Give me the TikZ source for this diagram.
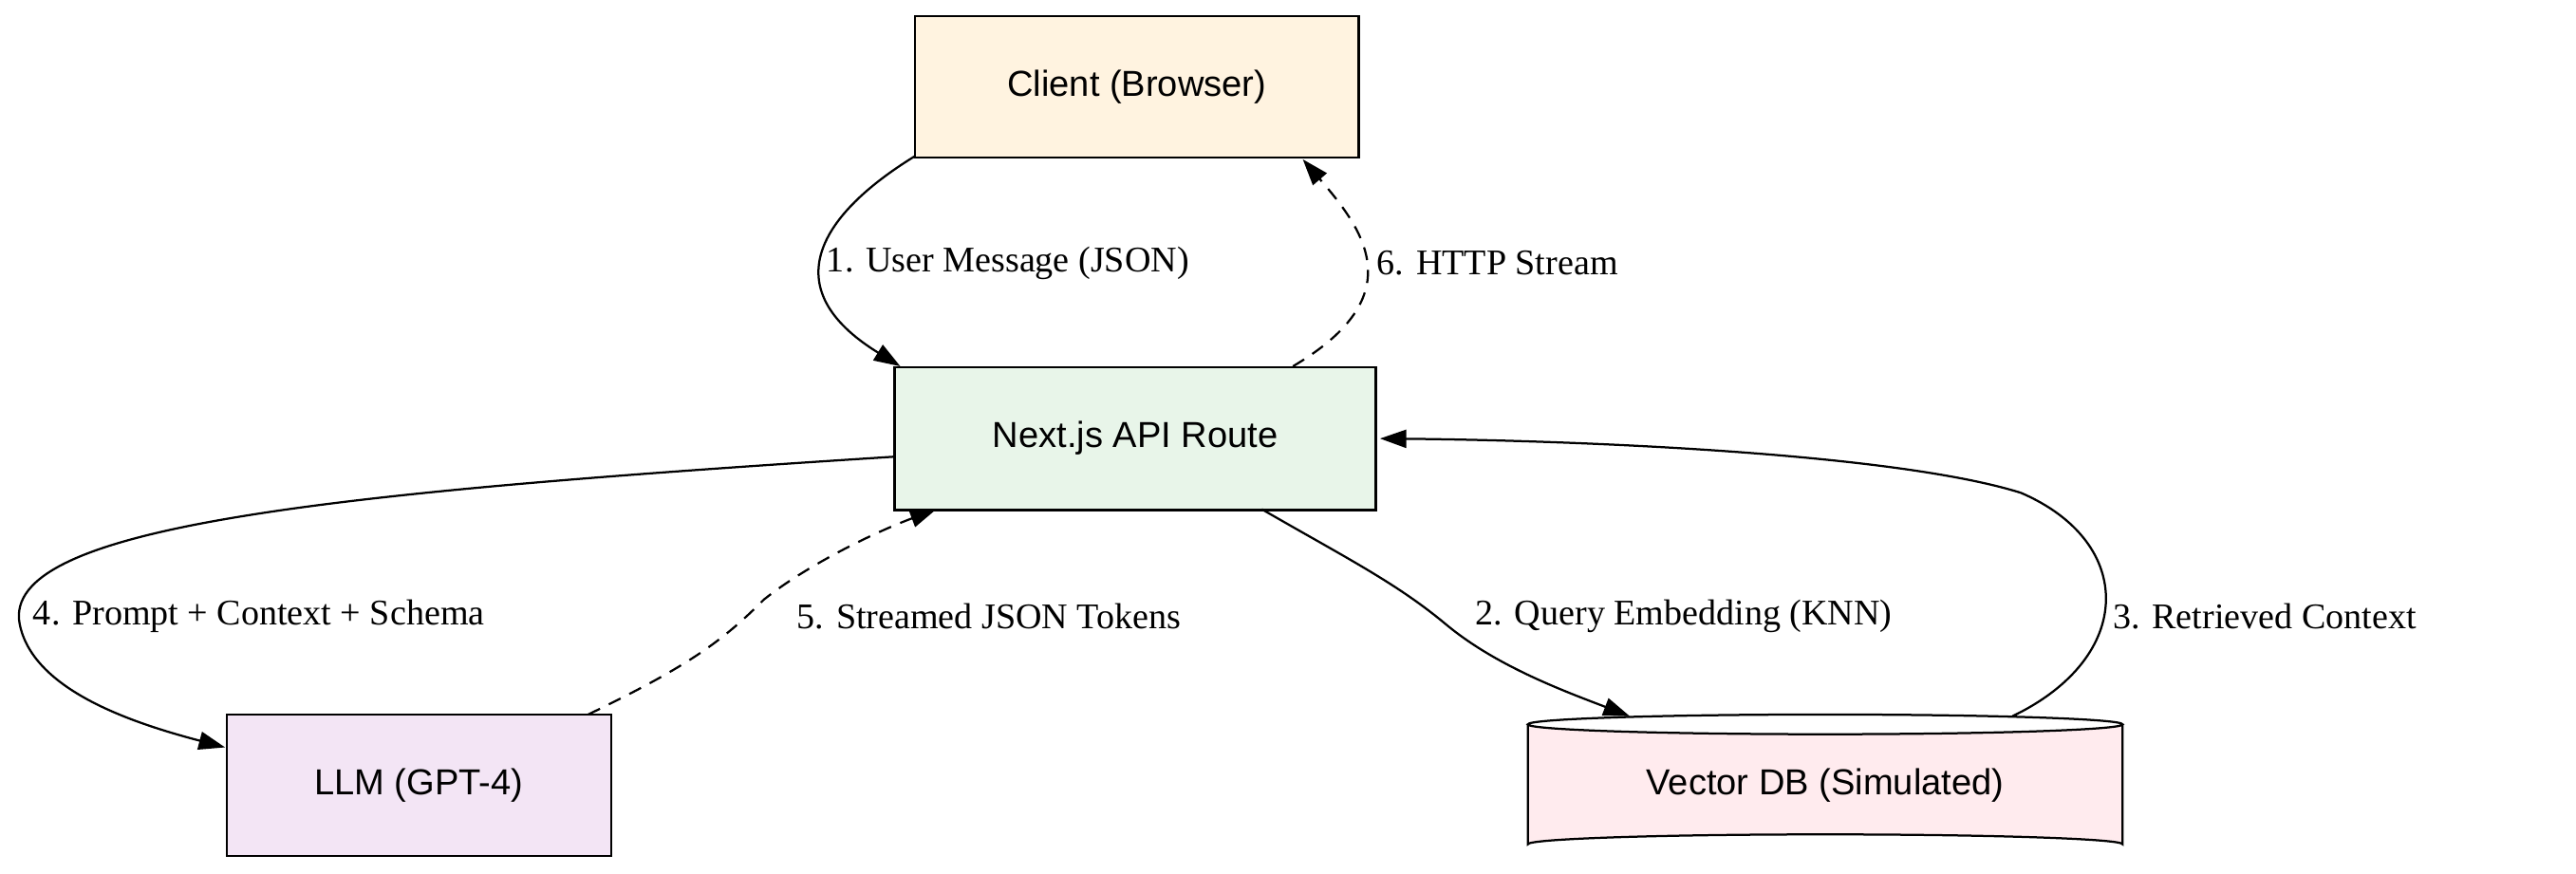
\documentclass[tikz,border=0pt]{standalone}
\usepackage{fontspec}
\setmainfont{Liberation Serif}
\newfontfamily\nodefont{Liberation Sans}
\usetikzlibrary{arrows.meta}
\definecolor{cclient}{RGB}{255,243,224}
\definecolor{capi}{RGB}{232,245,233}
\definecolor{cllm}{RGB}{243,229,245}
\definecolor{cvdb}{RGB}{255,235,238}
\begin{document}
\begin{tikzpicture}[x=1pt,y=-1pt,
  box/.style={draw,line width=1.3pt,font=\nodefont\fontsize{22}{26}\selectfont,inner sep=0pt},
  lbl/.style={font=\fontsize{22}{26}\selectfont,anchor=west,inner sep=0pt},
  edge/.style={line width=1.3pt,-{Triangle[length=16pt,width=11pt]}},
  dashedge/.style={edge,dash pattern=on 8pt off 6pt}]
\useasboundingbox (0,0) rectangle (1568,532);
\node[box,fill=cclient,minimum width=270pt,minimum height=86pt] (client) at (692,53) {Client (Browser)};
\node[box,fill=capi,minimum width=293pt,minimum height=87pt] (api) at (691,267) {Next.js API Route};
\node[box,fill=cllm,minimum width=234pt,minimum height=86pt] (llm) at (255,478) {LLM (GPT-4)};
\fill[cvdb] (930,441) -- (930,514) arc[start angle=180,end angle=360,x radius=181,y radius=6] -- (1292,441) arc[start angle=0,end angle=180,x radius=181,y radius=6] -- cycle;
\draw[line width=1.3pt] (930,441) -- (930,514) arc[start angle=180,end angle=360,x radius=181,y radius=6] -- (1292,441);
\draw[line width=1.3pt] (1111,441) ellipse[x radius=181,y radius=6];
\node[box,draw=none,minimum width=362pt,minimum height=86pt] (vdb) at (1111,478) {\raisebox{-6pt}{Vector DB (Simulated)}};
\draw[edge] (557,95) .. controls (500,130) and (470,175) .. (548,223);
\node[lbl] (l1) at (503,160) {1. User Message (JSON)};
\draw[dashedge] (787,223) .. controls (860,180) and (830,140) .. (793,97);
\node[lbl] (l6) at (838,160) {6. HTTP Stream};
\draw[edge] (545,278) .. controls (200,300) and (0,320) .. (12,380) .. controls (20,420) and (80,440) .. (137,455);
\node[lbl] (l4) at (20,375) {4. Prompt + Context + Schema};
\draw[dashedge] (358,435) .. controls (420,405) and (440,390) .. (465,365) .. controls (490,345) and (530,325) .. (570,310);
\node[lbl] (l5) at (485,375) {5. Streamed JSON Tokens};
\draw[edge] (768,310) .. controls (820,340) and (850,355) .. (880,380) .. controls (910,405) and (950,420) .. (992,436);
\node[lbl] (l2) at (898,375) {2. Query Embedding (KNN)};
\draw[edge] (1225,436) .. controls (1300,400) and (1300,330) .. (1230,300) .. controls (1150,275) and (950,268) .. (840,267);
\node[lbl] (l3) at (1286,375) {3. Retrieved Context};
\end{tikzpicture}
\end{document}
